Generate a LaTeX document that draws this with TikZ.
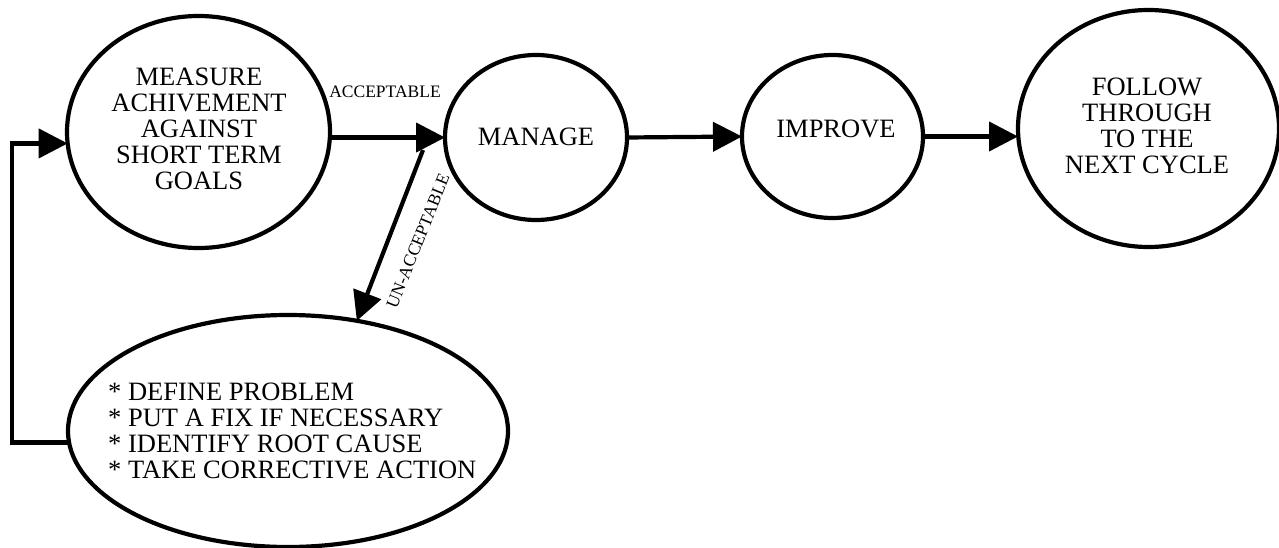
\documentclass[tikz,border=0pt]{standalone}
\usepackage{fontspec}
\setmainfont{Liberation Serif}
\usetikzlibrary{shapes.geometric,arrows.meta,calc}
\tikzset{
  oval/.style={ellipse,draw,line width=4.2pt,inner sep=0pt,outer sep=0pt},
  bigtxt/.style={font=\fontsize{26.5}{26}\selectfont,inner sep=0pt,align=center},
  smalltxt/.style={font=\fontsize{17.5}{18}\selectfont,inner sep=0pt},
  arr/.style={line width=4.2pt,-{Triangle[length=29pt,width=29pt]}}
}
\begin{document}
\begin{tikzpicture}[x=1pt,y=-1pt]
\useasboundingbox (0,0) rectangle (1279,548);
% ellipses
\node[oval,minimum width=263pt,minimum height=232pt] (meas) at (198.5,132) {};
\node[oval,minimum width=182pt,minimum height=165pt] (man) at (536,137.5) {};
\node[oval,minimum width=181pt,minimum height=163pt] (imp) at (832.5,136.5) {};
\node[oval,minimum width=261pt,minimum height=237pt] (fol) at (1148.5,128.5) {};
\node[oval,minimum width=440pt,minimum height=232pt] (bot) at (288,431) {};
% texts
\node[bigtxt] (measT) at (199,129) {MEASURE\\ACHIVEMENT\\AGAINST\\SHORT TERM\\GOALS};
\node[bigtxt] (manT) at (536,137) {MANAGE};
\node[bigtxt] (impT) at (836,129) {IMPROVE};
\node[bigtxt] (folT) at (1147,126) {FOLLOW\\THROUGH\\TO THE\\NEXT CYCLE};
\node[bigtxt,align=left,anchor=west] (botT) at (108,431) {* DEFINE PROBLEM\\* PUT A FIX IF NECESSARY\\* IDENTIFY ROOT CAUSE\\* TAKE CORRECTIVE ACTION};
\node[smalltxt] (acc) at (385,92) {ACCEPTABLE};
\node[smalltxt,rotate=68] (unacc) at (418,241) {UN-ACCEPTABLE};
% connectors
\draw[arr] (man.west -| meas.east) -- (man.west);
\draw[arr] (man.east) -- (imp.west);
\draw[arr] (imp.east) -- (imp.east -| fol.west);
\coordinate (ua) at (423,150);
\draw[arr] (ua) -- (bot.58);
\coordinate (lx) at (12,0);
\draw[arr] (bot.183) -- (bot.183 -| lx) -- (meas.185 -| lx) -- (meas.185);
\end{tikzpicture}
\end{document}
